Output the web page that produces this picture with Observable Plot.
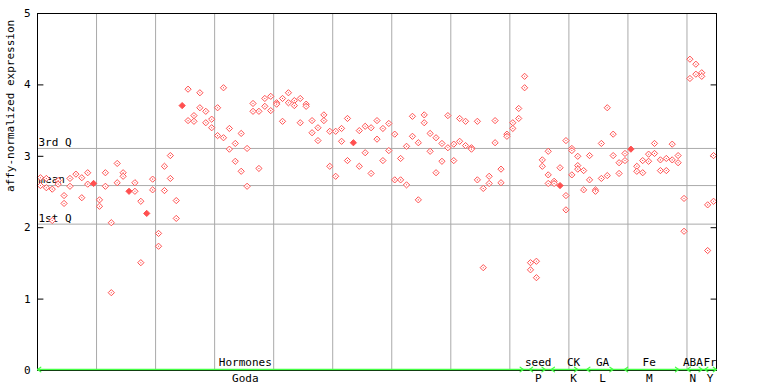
<!DOCTYPE html>
<html>
<head>
<meta charset="utf-8">
<script src="https://cdn.jsdelivr.net/npm/d3@7"></script>
<script src="https://cdn.jsdelivr.net/npm/@observablehq/plot@0.6"></script>
<style>
  html, body { margin: 0; padding: 0; background: #fff; }
</style>
</head>
<body>
<div id="chart"></div>
<script>
// ---- data ----
const sampleCount = 115;
const seriesA = [2.70,2.69,2.54,2.66,2.45,2.69,2.75,2.70,2.77,2.62,
  2.39,2.77,2.07,2.90,2.77,2.51,2.63,2.37,2.20,2.68,
  1.92,2.86,3.01,2.38,3.71,3.94,3.57,3.89,3.63,3.52,
  3.68,3.96,3.39,3.18,3.32,3.11,3.74,3.63,3.81,3.84,
  3.75,3.81,3.89,3.78,3.81,3.73,3.50,3.40,3.58,3.35,
  3.35,3.39,3.53,3.19,3.36,3.42,3.40,3.50,3.39,3.46,
  3.31,2.97,3.14,3.56,3.19,3.58,3.32,3.26,3.18,3.57,
  3.17,3.53,3.49,3.12,3.49,2.55,2.72,3.50,2.82,3.31,
  3.47,3.67,4.12,1.51,1.53,2.95,3.07,2.65,2.84,3.22,
  3.11,3.00,2.80,3.01,2.53,3.18,3.68,3.31,2.91,3.04,
  3.10,2.86,2.94,3.03,3.18,2.95,2.97,3.17,3.01,2.41,
  4.36,4.29,4.17,2.32,3.01];
const seriesB = [2.59,2.56,2.10,2.61,2.34,2.58,null,2.42,2.61,2.62,
  2.30,2.58,1.09,2.63,2.72,2.51,2.51,1.51,2.20,2.53,
  1.74,2.52,2.69,2.13,3.71,3.50,3.49,3.68,3.47,3.40,
  3.29,3.26,3.10,2.93,2.79,2.58,3.63,2.83,3.70,3.64,
  3.73,3.49,3.75,3.71,3.47,3.70,3.33,3.22,3.50,2.86,
  2.72,3.21,2.94,3.19,2.86,3.05,2.76,3.24,2.94,3.08,
  2.67,2.67,2.60,3.28,2.39,3.47,3.07,2.77,2.93,3.12,
  2.94,3.21,3.15,3.10,2.67,1.44,2.62,3.19,2.63,3.28,
  3.39,3.53,3.96,1.41,1.30,2.86,2.74,2.62,2.59,2.45,
  3.08,2.87,2.53,2.67,2.51,2.69,2.73,3.01,2.76,2.94,
  3.10,2.79,2.77,2.93,3.04,2.80,2.80,2.95,2.91,1.95,
  4.09,4.15,4.12,1.68,2.37];
const extraIndex = [86, 88, 89, 90, 91];
const extraValue = [2.62, 2.59, 2.25, 2.74, 2.82];

const statNames = ["3rd Q", "mean", "1st Q"];
const statValues = [3.11, 2.59, 2.05];

const groupTop    = ["Hormones", "seed", "CK", "GA", "Fe", "ABA", "Fr"];
const groupBottom = ["Goda", "P", "K", "L", "M", "N", "Y"];
const groupStart  = [0, 83.3, 87, 93, 99.4, 110, 113];
const groupEnd    = [82.3, 86, 91.5, 97.5, 108.6, 112.6, 115];
const groupLabelAt = [35.2, 84.8, 90.8, 95.7, 103.6, 111, 113.9];

const yTicks = [0, 1, 2, 3, 4, 5];
const gridX = [10, 20, 30, 40, 50, 60, 70, 80, 90, 100, 110];
const yLabel = "affy-normalized expression";

// ---- build table ----
const raw = [];
seriesA.forEach((v, i) => { if (v != null) raw.push({i, v}); });
seriesB.forEach((v, i) => { if (v != null) raw.push({i, v}); });
extraIndex.forEach((i, k) => raw.push({i, v: extraValue[k]}));
const counts = d3.rollup(raw, g => g.length, d => d.i + ":" + d.v);
const seen = new Set();
const pts = [];
for (const d of raw) {
  const key = d.i + ":" + d.v;
  if (seen.has(key)) continue;
  seen.add(key);
  pts.push({u: d.i + 0.5, v: d.v, filled: counts.get(key) > 1});
}
const groups = groupTop.map((t, k) => ({top: t, bottom: groupBottom[k], s: groupStart[k], e: groupEnd[k], at: groupLabelAt[k]}));

const red = "#ff5050";
const green = "#44ff44";
const font = "DejaVu Sans Mono";

const chart = Plot.plot({
  width: 768,
  height: 384,
  marginLeft: 37,
  marginRight: 52,
  marginTop: 13,
  marginBottom: 14,
  style: {fontFamily: font, fontSize: "11px", background: "#fff", color: "#000"},
  x: {domain: [0, sampleCount], axis: null},
  y: {domain: [0, 5], axis: null},
  marks: [
    Plot.ruleX(gridX, {stroke: "#aaaaaa", strokeWidth: 1}),
    Plot.ruleY(statValues, {stroke: "#aaaaaa", strokeWidth: 1}),
    Plot.text(statNames, {x: 0, y: (d, k) => statValues[k], text: d => d, textAnchor: "start", dx: 1, dy: -6, fill: "#000"}),
    Plot.axisY({ticks: yTicks, tickSize: 0, tickPadding: 7, tickFormat: d => String(d), label: null, fontSize: 11}),
    Plot.link(yTicks, {x1: 0, x2: 1, y1: d => d, y2: d => d, stroke: "#000"}),
    Plot.link(yTicks, {x1: sampleCount - 1, x2: sampleCount, y1: d => d, y2: d => d, stroke: "#000"}),
    Plot.text([yLabel], {frameAnchor: "left", rotate: -90, dx: -27, text: d => d, fill: "#000", fontSize: 11}),
    Plot.dot(pts, {x: "u", y: "v", symbol: "diamond2", r: 2.8, stroke: red, strokeWidth: 1, fill: d => d.filled ? red : "white"}),
    Plot.dot(pts, {x: "u", y: "v", symbol: "square", r: 0.6, fill: red}),
    Plot.frame({stroke: "#000"}),
    Plot.ruleY([0], {x1: 0, x2: sampleCount, stroke: green, strokeWidth: 1.5, dy: -1}),
    Plot.arrow(groups, {x1: "s", x2: "e", y1: 0, y2: 0, dy: -1, stroke: green, strokeWidth: 1.2, headLength: 5, headAngle: 70}),
    Plot.arrow(groups, {x1: "e", x2: "s", y1: 0, y2: 0, dy: -1, stroke: green, strokeWidth: 1.2, headLength: 5, headAngle: 70}),
    Plot.text(groups, {x: "at", y: 0, text: "top", dy: -8, fill: "#000"}),
    Plot.text(groups, {x: "at", y: 0, text: "bottom", dy: 8, fill: "#000"})
  ]
});
document.getElementById("chart").appendChild(chart);
</script>
</body>
</html>
